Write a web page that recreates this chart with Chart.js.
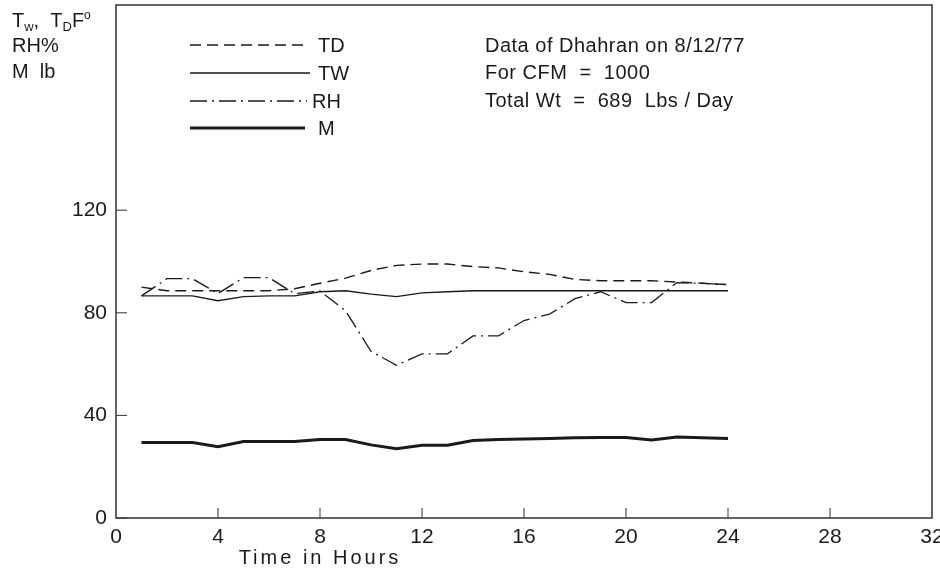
<!DOCTYPE html>
<html>
<head>
<meta charset="utf-8">
<script src="https://cdn.jsdelivr.net/npm/chart.js@4.4.1/dist/chart.umd.min.js"></script>
<style>
  html, body { margin: 0; padding: 0; background: #fff; }
  #wrap { width: 940px; height: 571px; }
</style>
</head>
<body>
<div id="wrap"><canvas id="myChart"></canvas></div>
<script>
// hourly readings, Dhahran 8/12/77
const hours = [1,2,3,4,5,6,7,8,9,10,11,12,13,14,15,16,17,18,19,20,21,22,23,24]
const tdValues = [90,88.6,88.6,88.6,88.6,88.6,89.4,91.5,93.5,96.5,98.5,99,99,98,97.5,96,95,93,92.5,92.5,92.5,92,91.5,91]
const twValues = [86.6,86.6,86.6,84.7,86.3,86.6,86.6,88.2,88.6,87.3,86.3,87.8,88.2,88.6,88.6,88.6,88.6,88.6,88.6,88.6,88.6,88.6,88.6,88.6]
const rhValues = [86.6,93.3,93.3,87.5,93.7,93.7,87.5,88.5,80.8,65,59.5,64,64,71,71,77,79.5,85.5,88.2,84,84,91.8,91.5,91]
const mValues = [29.4,29.4,29.4,27.8,29.8,29.8,29.8,30.6,30.6,28.5,27,28.4,28.4,30.2,30.6,30.8,31,31.3,31.4,31.4,30.4,31.6,31.3,31]

const xTicks = [0,4,8,12,16,20,24,28,32]
const yTicks = [0,40,80,120]

const notes = ['Data of Dhahran on 8/12/77', 'For CFM  =  1000', 'Total Wt  =  689  Lbs / Day']

const ink = '#1a1a1a'
const font = 'Liberation Sans, Arial, sans-serif'

const toPoints = vals => hours.map((h, i) => ({ x: h, y: vals[i] }))

const datasets = [
  { label: 'TD', data: toPoints(tdValues), borderWidth: 1.4, borderDash: [11, 6] },
  { label: 'TW', data: toPoints(twValues), borderWidth: 1.3, borderDash: [] },
  { label: 'RH', data: toPoints(rhValues), borderWidth: 1.3, borderDash: [17, 5, 2, 5] },
  { label: 'M', data: toPoints(mValues), borderWidth: 3, borderDash: [] }
].map(d => ({ ...d, borderColor: ink, pointRadius: 0, tension: 0, fill: false }))

// frame, inward ticks, legend, notes and axis titles
const decorations = {
  id: 'decorations',
  afterDraw(chart) {
    const ctx = chart.ctx
    const area = chart.chartArea
    const xs = chart.scales.x
    const ys = chart.scales.y
    ctx.save()
    ctx.strokeStyle = '#333'
    ctx.lineWidth = 1.5
    ctx.strokeRect(area.left, area.top, area.right - area.left, area.bottom - area.top)

    ctx.lineWidth = 1
    ctx.beginPath()
    yTicks.forEach(v => {
      const y = ys.getPixelForValue(v)
      ctx.moveTo(area.left, y)
      ctx.lineTo(area.left + 11, y)
    })
    xTicks.slice(1, -1).forEach(v => {
      const x = xs.getPixelForValue(v)
      ctx.moveTo(x, area.bottom)
      ctx.lineTo(x, area.bottom - 10)
    })
    ctx.stroke()

    // legend
    ctx.fillStyle = ink
    ctx.font = '20px ' + font
    ctx.textBaseline = 'middle'
    const legendY = [45, 73, 101, 128]
    const lineEnd = [308, 310, 307, 305]
    const textX = [318, 318, 312, 318]
    chart.data.datasets.forEach((ds, i) => {
      ctx.strokeStyle = ink
      ctx.lineWidth = ds.borderWidth
      ctx.setLineDash(ds.borderDash)
      ctx.beginPath()
      ctx.moveTo(190, legendY[i])
      ctx.lineTo(lineEnd[i], legendY[i])
      ctx.stroke()
      ctx.setLineDash([])
      ctx.fillText(ds.label, textX[i], legendY[i] + 1)
    })

    ctx.letterSpacing = '0.5px'
    notes.forEach((t, i) => ctx.fillText(t, 485, 46 + i * 27.5))
    ctx.letterSpacing = '0px'

    // y axis title
    ctx.textBaseline = 'alphabetic'
    let x = 12
    const part = (txt, size, dy) => {
      ctx.font = size + 'px ' + font
      ctx.fillText(txt, x, 27 + dy)
      x += ctx.measureText(txt).width
    }
    part('T', 20, 0)
    part('w', 13, 4)
    part(',  T', 20, 0)
    part('D', 13, 4)
    part('F', 20, 0)
    part('o', 12, -8)
    ctx.font = '20px ' + font
    ctx.fillText('RH%', 12, 52)
    ctx.fillText('M  lb', 12, 78)

    // x axis title
    ctx.textAlign = 'center'
    ctx.letterSpacing = '3px'
    ctx.fillText('Time in Hours', xs.getPixelForValue(8), 564)
    ctx.restore()
  }
}

new Chart(document.getElementById('myChart'), {
  type: 'line',
  data: { datasets },
  plugins: [decorations],
  options: {
    responsive: true,
    maintainAspectRatio: false,
    animation: false,
    layout: { padding: { top: 5, right: 8, left: 0, bottom: 0 } },
    plugins: { legend: { display: false }, tooltip: { enabled: false } },
    scales: {
      x: {
        type: 'linear',
        min: 0,
        max: 32,
        afterFit: s => { s.height = 53; s.paddingLeft = 0; s.paddingRight = 0 },
        afterBuildTicks: s => { s.ticks = xTicks.map(v => ({ value: v })) },
        grid: { display: false, drawTicks: false },
        border: { display: false },
        ticks: { color: ink, font: { family: font, size: 21 }, padding: 7, maxRotation: 0 }
      },
      y: {
        min: 0,
        max: 200,
        afterFit: s => { s.width = 116; s.paddingTop = 0; s.paddingBottom = 0 },
        afterBuildTicks: s => { s.ticks = yTicks.map(v => ({ value: v })) },
        grid: { display: false, drawTicks: false },
        border: { display: false },
        ticks: { color: ink, font: { family: font, size: 21 }, padding: 9 }
      }
    }
  }
})
</script>
</body>
</html>
